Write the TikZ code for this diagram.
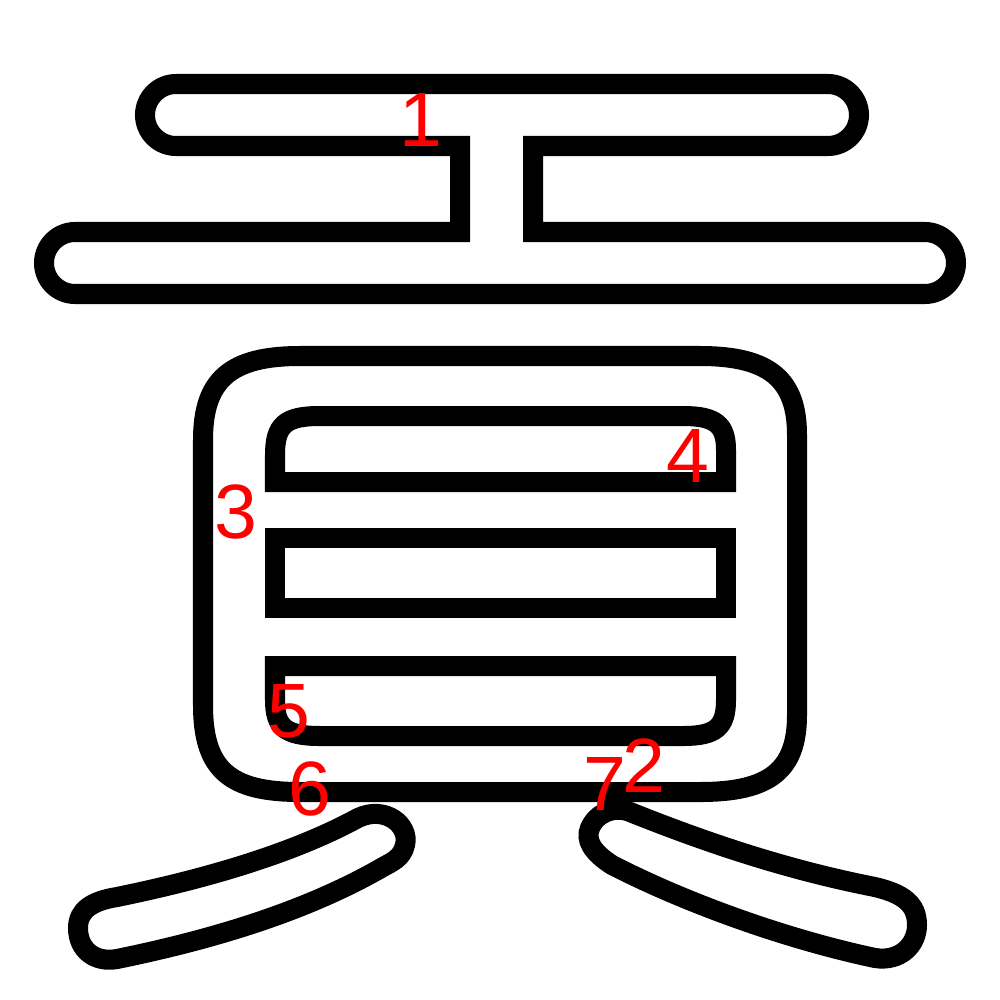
\documentclass[tikz,border=0pt]{standalone}
\usepackage{fontspec}
\setmainfont{Liberation Sans}
\begin{document}
\begin{tikzpicture}[x=0.01cm,y=-0.01cm,
  outline/.style={draw=black,line width=0.2cm,line join=miter},
  num/.style={text=red,font=\fontsize{21.9}{26}\selectfont,inner sep=0pt,outer sep=0pt,anchor=base}]
\useasboundingbox (0,0) rectangle (1000,1000);
% stroke 1 : top part
\draw[outline] (460,146) -- (176,146) .. controls (159,146) and (145,132) .. (145,115)
  .. controls (145,98) and (159,84) .. (176,84) -- (828,84)
  .. controls (845,84) and (859,98) .. (859,115) .. controls (859,132) and (845,146) .. (828,146)
  -- (533,146) -- (533,232) -- (925,232)
  .. controls (942,232) and (956,246) .. (956,263) .. controls (956,280) and (942,294) .. (925,294)
  -- (75,294) .. controls (58,294) and (44,280) .. (44,263) .. controls (44,246) and (58,232) .. (75,232)
  -- (460,232) -- cycle;
% outer box
\draw[outline] (203,440) .. controls (203,380) and (230,356) .. (300,356) -- (700,356)
  .. controls (770,356) and (797,380) .. (797,435) -- (797,715)
  .. controls (797,770) and (770,792) .. (700,792) -- (300,792)
  .. controls (230,792) and (203,770) .. (203,705) -- cycle;
% inner top box
\draw[outline] (275,482) -- (275,455) .. controls (275,425) and (285,416) .. (320,416) -- (683,416)
  .. controls (716,416) and (726,425) .. (726,450) -- (726,482) -- cycle;
% middle rectangle
\draw[outline] (275,538) rectangle (726,608);
% bottom inner box
\draw[outline] (275,666) -- (726,666) -- (726,700) .. controls (726,727) and (716,736) .. (683,736)
  -- (320,736) .. controls (285,736) and (275,727) .. (275,700) -- cycle;
% left leg
\draw[outline] (117,897) .. controls (200,880) and (290,855) .. (358,818)
  .. controls (385,805) and (410,825) .. (405,845) .. controls (402,858) and (392,862) .. (383,867)
  .. controls (300,915) and (200,942) .. (117,959)
  .. controls (95,963) and (78,950) .. (78,928) .. controls (78,910) and (92,901) .. (117,897) -- cycle;
% right leg
\draw[outline] (630,812) .. controls (700,840) and (780,868) .. (870,886)
  .. controls (905,893) and (917,905) .. (917,925) .. controls (917,945) and (900,962) .. (875,958)
  .. controls (790,940) and (690,905) .. (612,865)
  .. controls (592,852) and (585,840) .. (590,828) .. controls (597,812) and (615,806) .. (630,812) -- cycle;
% stroke numbers
\node[num] (n1) at (421,146) {1};
\node[num] (n2) at (644,792) {2};
\node[num] (n3) at (236,538) {3};
\node[num] (n4) at (688,482) {4};
\node[num] (n5) at (289,737) {5};
\node[num] (n6) at (310,815) {6};
\node[num] (n7) at (605,810) {7};
\end{tikzpicture}
\end{document}
